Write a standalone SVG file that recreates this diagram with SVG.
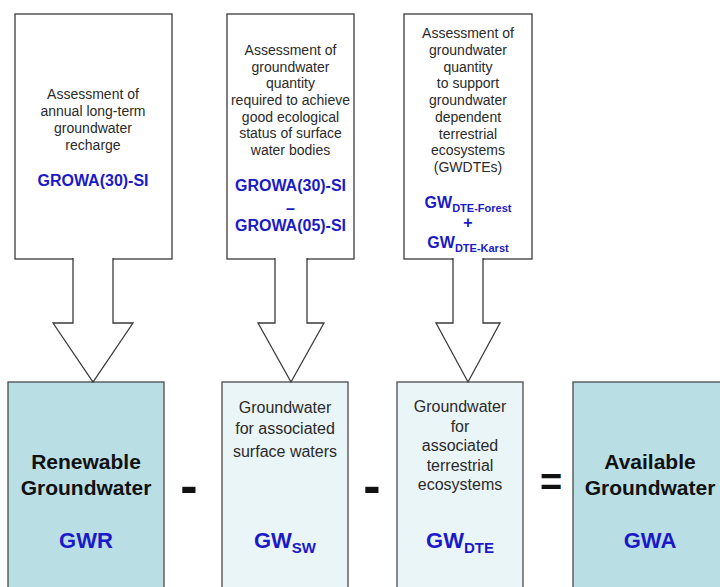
<svg xmlns="http://www.w3.org/2000/svg" width="720" height="587" viewBox="0 0 720 587">
<style>
.callout{fill:#ffffff;stroke:#3a3a3a;stroke-width:1.3}
.arrow{fill:#ffffff;stroke:#3a3a3a;stroke-width:1.3;stroke-linejoin:miter}
.teal{fill:#b9dee3;stroke:#4a4a4a;stroke-width:1.3}
.pale{fill:#eaf5f8;stroke:#4a4a4a;stroke-width:1.3}
.t{font-family:"Liberation Sans",Arial,sans-serif;font-size:14px;fill:#2a2a2a;text-anchor:middle}
.m{font-family:"Liberation Sans",Arial,sans-serif;font-size:16px;fill:#2a2a2a;text-anchor:middle}
.bl{font-family:"Liberation Sans",Arial,sans-serif;font-weight:bold;fill:#1a1ac8;text-anchor:middle}
.big{font-family:"Liberation Sans",Arial,sans-serif;font-weight:bold;font-size:21px;fill:#111111;text-anchor:middle}
.op{font-family:"Liberation Sans",Arial,sans-serif;font-weight:bold;fill:#111111;text-anchor:middle}
</style>
<rect x="0" y="0" width="720" height="587" fill="#ffffff"/>

<g id="assess-recharge">
<rect class="callout" x="15" y="14" width="157" height="245"/>
<text class="t" x="93" y="99">Assessment of</text>
<text class="t" x="93" y="116">annual long-term</text>
<text class="t" x="93" y="133">groundwater</text>
<text class="t" x="93" y="150">recharge</text>
<text class="bl" x="93" y="186" font-size="16">GROWA(30)-SI</text>
</g>

<g id="assess-surface">
<rect class="callout" x="227" y="14" width="127" height="245"/>
<text class="t" x="290.5" y="55">Assessment of</text>
<text class="t" x="290.5" y="71.7">groundwater</text>
<text class="t" x="290.5" y="88.3">quantity</text>
<text class="t" x="290.5" y="105">required to achieve</text>
<text class="t" x="290.5" y="121.7">good ecological</text>
<text class="t" x="290.5" y="138.3">status of surface</text>
<text class="t" x="290.5" y="155">water bodies</text>
<text class="bl" x="290.5" y="191" font-size="16">GROWA(30)-SI</text>
<text class="bl" x="290.5" y="214" font-size="16">–</text>
<text class="bl" x="290.5" y="231" font-size="16">GROWA(05)-SI</text>
</g>

<g id="assess-gwdte">
<rect class="callout" x="404" y="14" width="128" height="245"/>
<text class="t" x="468" y="38">Assessment of</text>
<text class="t" x="468" y="54.75">groundwater</text>
<text class="t" x="468" y="71.5">quantity</text>
<text class="t" x="468" y="88.25">to support</text>
<text class="t" x="468" y="105">groundwater</text>
<text class="t" x="468" y="121.75">dependent</text>
<text class="t" x="468" y="138.5">terrestrial</text>
<text class="t" x="468" y="155.25">ecosystems</text>
<text class="t" x="468" y="172">(GWDTEs)</text>
<text class="bl" x="468" y="208" font-size="16">GW<tspan font-size="11" dy="4">DTE-Forest</tspan></text>
<text class="bl" x="468" y="228" font-size="16">+</text>
<text class="bl" x="468" y="248" font-size="16">GW<tspan font-size="11" dy="4">DTE-Karst</tspan></text>
</g>

<g id="gwr">
<rect class="teal" x="8" y="382" width="156" height="215"/>
<text class="big" x="86" y="469">Renewable</text>
<text class="big" x="86" y="495">Groundwater</text>
<text class="bl" x="86" y="548" font-size="22">GWR</text>
</g>

<g id="gwsw">
<rect class="pale" x="222" y="382" width="126" height="215"/>
<text class="m" x="285" y="413">Groundwater</text>
<text class="m" x="285" y="434">for associated</text>
<text class="m" x="285" y="457">surface waters</text>
<text class="bl" x="285" y="548" font-size="22">GW<tspan font-size="15" dy="5">SW</tspan></text>
</g>

<g id="gwdte">
<rect class="pale" x="397" y="382" width="126" height="215"/>
<text class="m" x="460" y="412">Groundwater</text>
<text class="m" x="460" y="431.5">for</text>
<text class="m" x="460" y="451">associated</text>
<text class="m" x="460" y="470.5">terrestrial</text>
<text class="m" x="460" y="490">ecosystems</text>
<text class="bl" x="460" y="548" font-size="22">GW<tspan font-size="15" dy="5">DTE</tspan></text>
</g>

<g id="gwa">
<rect class="teal" x="573" y="382" width="156" height="215"/>
<text class="big" x="650" y="469">Available</text>
<text class="big" x="650" y="495">Groundwater</text>
<text class="bl" x="650" y="548" font-size="22">GWA</text>
</g>

<g id="operators">
<text class="op" x="189" y="503" font-size="52">-</text>
<text class="op" x="372" y="503" font-size="52">-</text>
<text class="op" x="551" y="495" font-size="38">=</text>
</g>

<g id="connectors">
<path class="arrow" d="M73,258 V323 H53 L93,382 L133,323 H113 V258"/>
<path class="arrow" d="M275,258 V323 H258 L291,382 L324,323 H307 V258"/>
<path class="arrow" d="M453,258 V323 H436 L468,382 L500,323 H483 V258"/>
</g>
</svg>
